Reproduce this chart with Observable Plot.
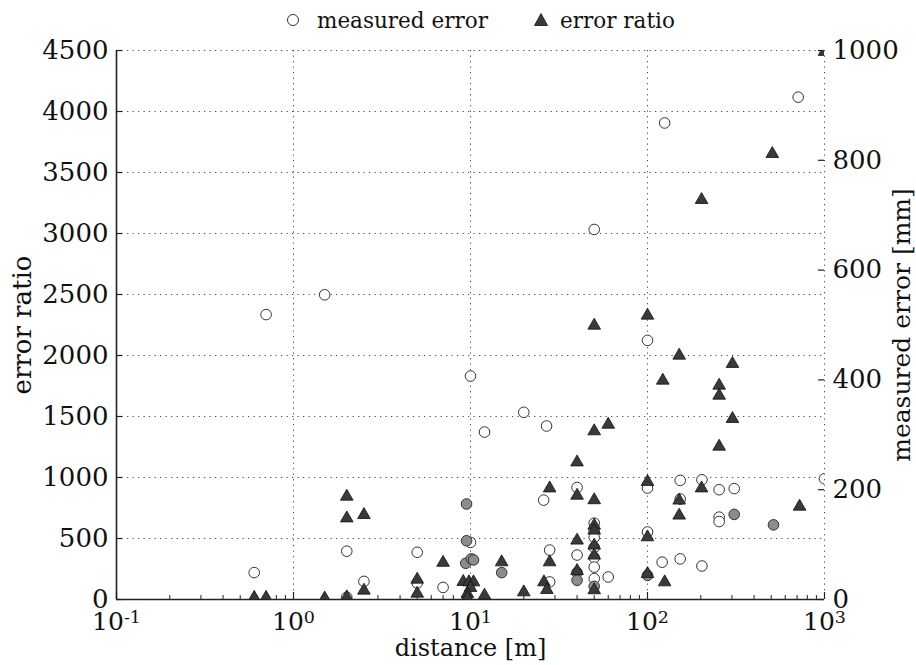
<!DOCTYPE html>
<html>
<head>
<meta charset="utf-8">
<script src="https://cdn.jsdelivr.net/npm/d3@7"></script>
<script src="https://cdn.jsdelivr.net/npm/@observablehq/plot@0.6"></script>
<style>
  html, body { margin: 0; padding: 0; background: #fff; }
  body { width: 916px; height: 665px; overflow: hidden; font-family: "DejaVu Serif", serif; }
  #legend { display: block; }
  #chart svg { display: block; overflow: visible; }
</style>
</head>
<body>
<svg id="legend" width="916" height="32" xmlns="http://www.w3.org/2000/svg">
  <circle cx="293" cy="20" r="5.5" fill="#fff" stroke="#333" stroke-width="1"/>
  <text x="317" y="28" font-family="DejaVu Serif" font-size="21.5" fill="#111">measured error</text>
  <path d="M541,13.5 L547.5,25.5 L534.5,25.5 Z" fill="#3a3a3a" stroke="#111" stroke-width="0.8"/>
  <text x="560" y="28" font-family="DejaVu Serif" font-size="21.5" fill="#111">error ratio</text>
</svg>
<div id="chart"></div>
<script>
// ---- data ----
// open circles: measured error [mm] (right axis)
const openDist = [0.6, 0.7, 1.5, 2, 2, 2.5, 5, 5, 7, 10, 10, 12, 20, 25.9, 26.9, 28, 28, 40, 40,
  50, 50, 50, 50, 50, 50, 50, 50, 60, 100, 100, 100, 121, 125, 153, 153, 153, 203, 203,
  254, 254, 254, 309, 710, 1000];
const openMM = [49, 519, 555, 88, 4, 33, 86, 30, 22, 407, 104, 305, 341, 181, 316, 90, 32, 204, 81,
  674, 139, 126, 113, 95, 76, 59, 38, 41, 472, 203, 123, 68, 868, 217, 183, 74, 218, 61,
  200, 150, 142, 202, 915, 220];
// grey filled circles: measured error [mm] (right axis)
const greyDist = [9.5, 9.5, 9.4, 10.1, 10.4, 15, 40, 40, 50, 100, 309, 515];
const greyMM = [174, 107, 66, 74, 72, 49, 49, 35, 24, 44, 155, 136];
// triangles: error ratio (left axis)
const triDist = [0.6, 0.7, 1.5, 2, 2, 2, 2.5, 2.5, 5, 5, 7, 9.1, 9.8, 10.4, 10, 9.6, 9.6, 12, 15, 20,
  26, 27, 28, 28, 40, 40, 40, 40, 50, 50, 50, 50, 50, 50, 50, 50, 60, 100, 100, 100, 100,
  122, 125, 151, 151, 151, 202, 202, 254, 254, 254, 302, 302, 507, 723, 1000];
const triRatio = [15, 15, 10, 844, 666, 19, 694, 74, 164, 49, 302, 145, 142, 142, 96, 47, 14, 33, 306, 60,
  142, 79, 912, 306, 1125, 852, 484, 235, 2246, 1380, 815, 607, 566, 443, 361, 77, 1434, 2328, 965, 511, 210,
  1795, 142, 2000, 812, 689, 3276, 912, 1754, 1672, 1254, 1932, 1481, 3653, 762, 4490];

// axes / ticks
const xMajor = [0.1, 1, 10, 100, 1000];
const xGrid = [1, 10, 100, 1000];
const xMinor = [0.1, 1, 10, 100].flatMap(b => [2, 3, 4, 5, 6, 7, 8, 9].map(m => +(b * m).toPrecision(3)));
const yTicks = [0, 500, 1000, 1500, 2000, 2500, 3000, 3500, 4000, 4500];
const yGrid = [500, 1000, 1500, 2000, 2500, 3000, 3500, 4000, 4500];
const mmTicks = [0, 200, 400, 600, 800, 1000];
const yMax = 4500, mmMax = 1000;
const K = yMax / mmMax; // right axis (mm) mapped onto left scale

const openData = openDist.map((d, i) => ({d, v: openMM[i]}));
const greyData = greyDist.map((d, i) => ({d, v: greyMM[i]}));
const triData = triDist.map((d, i) => ({d, v: triRatio[i]}));

const W = 916, H = 633, ML = 116, MR = 92, MT = 18, MB = 66;
const IW = W - ML - MR, IH = H - MT - MB;
const dotted = {stroke: "#555", strokeOpacity: 1, strokeWidth: 1, strokeDasharray: "1.3,4.2"};

const chart = Plot.plot({
  width: W, height: H,
  marginLeft: ML, marginRight: MR, marginTop: MT, marginBottom: MB,
  style: {fontFamily: "DejaVu Serif", fontSize: "26px", color: "#111", background: "#fff"},
  x: {type: "log", domain: [0.1, 1000]},
  y: {domain: [0, yMax]},
  marks: [
    Plot.gridY(yGrid, dotted),
    Plot.gridX(xGrid, dotted),
    Plot.ruleY([0], {stroke: "#222", strokeWidth: 1.6}),
    Plot.ruleX([0.1], {stroke: "#222", strokeWidth: 1.6}),
    // inward ticks
    Plot.tickX(xMajor, {x: d => d, insetTop: IH - 7, stroke: "#222", strokeWidth: 1.2}),
    Plot.tickX(xMinor, {x: d => d, insetTop: IH - 4, stroke: "#222", strokeWidth: 1}),
    Plot.tickY(yTicks, {y: d => d, insetRight: IW - 6, stroke: "#222", strokeWidth: 1.2}),
    Plot.tickY(mmTicks, {y: d => d * K, insetLeft: IW - 6, stroke: "#222", strokeWidth: 1.2}),
    // tick labels
    Plot.axisX({ticks: xMajor, tickFormat: d => "10^" + Math.round(Math.log10(d)), tickSize: 0, tickPadding: 13, fontSize: 25, label: null}),
    Plot.axisY({anchor: "left", ticks: yTicks, tickFormat: d => String(d), tickSize: 0, tickPadding: 8, fontSize: 26, label: null}),
    Plot.axisY({anchor: "right", ticks: mmTicks.map(v => v * K), tickFormat: d => String(Math.round(d / K)), tickSize: 0, tickPadding: 8, fontSize: 26, label: null}),
    // data
    Plot.dot(openData, {x: "d", y: d => d.v * K, r: 5.3, fill: "#fff", stroke: "#333", strokeWidth: 1, clip: true}),
    Plot.dot(greyData, {x: "d", y: d => d.v * K, r: 5.3, fill: "#8c8c8c", stroke: "#333", strokeWidth: 1, clip: true}),
    Plot.dot(triData, {x: "d", y: "v", symbol: "triangle", r: 4.7, fill: "#3a3a3a", stroke: "#111", strokeWidth: 0.8, clip: true}),
    // axis titles
    Plot.text(["error ratio"], {frameAnchor: "left", textAnchor: "middle", dx: -94, rotate: -90, fontSize: 26, fill: "#111"}),
    Plot.text(["measured error [mm]"], {frameAnchor: "right", textAnchor: "middle", dx: 77, rotate: -90, fontSize: 25, fill: "#111"}),
    Plot.text(["distance [m]"], {frameAnchor: "bottom", textAnchor: "middle", dy: 56, fontSize: 24, fill: "#111"})
  ]
});

// superscript exponents on the x tick labels
chart.querySelectorAll('g[aria-label="x-axis tick label"] text').forEach(t => {
  const s = t.textContent;
  const parts = s.split("^");
  if (parts.length === 2) {
    t.textContent = parts[0];
    const ts = document.createElementNS("http://www.w3.org/2000/svg", "tspan");
    ts.setAttribute("dy", "-0.42em");
    ts.setAttribute("font-size", "0.7em");
    ts.textContent = parts[1];
    t.appendChild(ts);
  }
});

document.getElementById("chart").appendChild(chart);
</script>
</body>
</html>
